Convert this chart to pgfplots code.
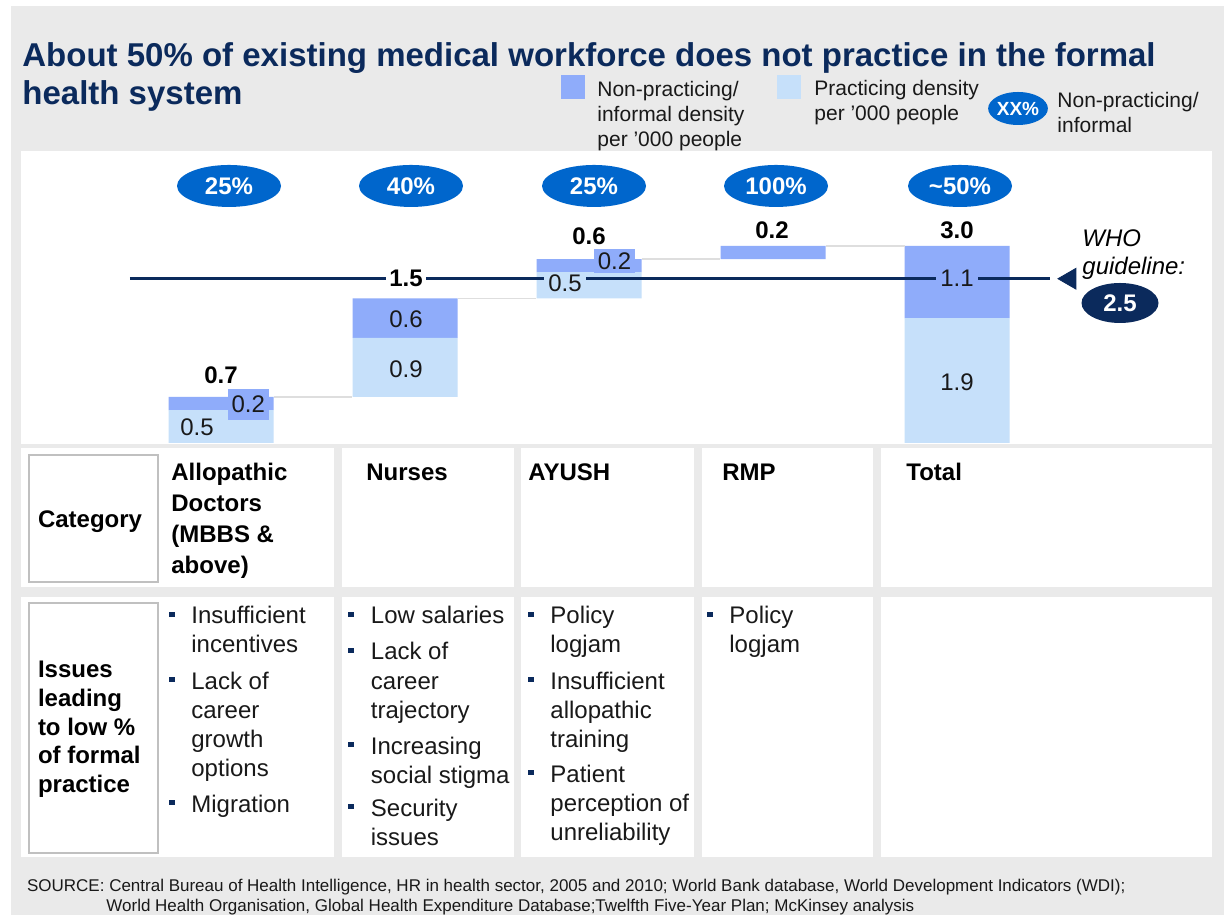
\documentclass[border=0pt]{standalone}
\usepackage{fontspec}
\setmainfont{Liberation Sans}
\usepackage{pgfplots}
\pgfplotsset{compat=1.18}
\usetikzlibrary{shapes.geometric}
\definecolor{navy}{RGB}{11,42,92}
\definecolor{dkbar}{RGB}{143,172,250}
\definecolor{ltbar}{RGB}{198,224,250}
\definecolor{pblue}{RGB}{0,102,204}
\definecolor{bg}{RGB}{234,234,234}
\definecolor{boxgray}{RGB}{192,192,192}
\definecolor{conn}{RGB}{222,222,222}
\definecolor{txt}{RGB}{25,25,25}
\newcommand{\bul}{\raisebox{3.6pt}{\textcolor{navy}{\rule{2.6pt}{2.6pt}}}}
\pgfplotsset{myax/.style={at={(0pt,0pt)}, anchor=south west, scale only axis,
  width=612pt, height=457.5pt, xmin=-1.20109, xmax=5.45109, ymin=-7.1842, ymax=6.7428,
  hide axis, clip=false}}
\tikzset{
  lbl/.style={font=\fontsize{12}{14}\selectfont, text=txt, inner sep=0pt},
  blbl/.style={font=\fontsize{12}{14}\selectfont\bfseries, text=black, inner sep=0pt},
  pct/.style={ellipse, fill=pblue, text=white, font=\fontsize{12}{14}\selectfont\bfseries,
    minimum width=52pt, minimum height=21pt, inner sep=0pt},
}
\begin{document}
\begin{tikzpicture}
% backgrounds (pixel coordinates, origin top-left)
\begin{scope}[yshift=457.5pt, x=0.5pt, y=-0.5pt]
\fill[white] (0,0) rectangle (1224,915);
\fill[bg] (11,6) rectangle (1224,915);
\fill[white] (21,151) rectangle (1212,444);
\foreach \a/\b in {21/334, 342/514, 521/694, 701.5/873, 881/1212} {
  \fill[white] (\a,448) rectangle (\b,587);
  \fill[white] (\a,597) rectangle (\b,857);
}
\end{scope}

% stacked (floating) bars
\begin{axis}[myax, ybar stacked, bar width=0.5707]
\addplot[draw=none, fill=none] coordinates {(0,0) (1,0.7) (2,2.2) (3,2.8) (4,0)};
\addplot[draw=none, fill=ltbar] coordinates {(0,0.5) (1,0.9) (2,0.4) (3,0) (4,1.9)};
\addplot[draw=none, fill=dkbar] coordinates {(0,0.2) (1,0.6) (2,0.2) (3,0.2) (4,1.1)};
\end{axis}

% lines, marker and labels
\begin{axis}[myax]
\addplot[conn, line width=0.7pt] coordinates {(0.2854,0.7) (0.7146,0.7)};
\addplot[conn, line width=0.7pt] coordinates {(1.2854,2.2) (1.7146,2.2)};
\addplot[conn, line width=0.7pt] coordinates {(2.2854,2.8) (2.7146,2.8)};
\addplot[conn, line width=0.7pt] coordinates {(3.2854,3.0) (3.7146,3.0)};
\addplot[navy, line width=1.3pt] coordinates {(-0.4946,2.5) (4.5054,2.5)};
\addplot[navy, only marks, mark=triangle*, mark size=6pt,
  mark options={rotate=90, fill=navy, draw=navy}] coordinates {(4.614,2.5)};
% percentage bubbles
\node[pct] at (axis cs:0.0435,3.9117) {25\%};
\node[pct] at (axis cs:1.0326,3.9117) {40\%};
\node[pct] at (axis cs:2.0272,3.9117) {25\%};
\node[pct] at (axis cs:3.0163,3.9117) {100\%};
\node[pct] at (axis cs:4.0163,3.9117) {\textasciitilde50\%};
% Allopathic
\node[blbl] at (axis cs:0,1.035) {0.7};
\node[lbl, fill=dkbar, minimum width=20.75pt, minimum height=15.5pt] at (axis cs:0.1481,0.586) {0.2};
\node[lbl] at (axis cs:-0.13,0.244) {0.5};
% Nurses
\node[blbl, fill=white, minimum width=20pt, minimum height=11pt] at (axis cs:1.0054,2.5) {1.5};
\node[lbl] at (axis cs:1.0054,1.887) {0.6};
\node[lbl] at (axis cs:1.0054,1.126) {0.9};
% AYUSH
\node[blbl] at (axis cs:2,3.15) {0.6};
\node[lbl, fill=dkbar, minimum width=20.5pt, minimum height=12pt] at (axis cs:2.1386,2.77) {0.2};
\node[lbl, fill=ltbar, minimum width=21pt, minimum height=10pt] at (axis cs:1.8696,2.43) {0.5};
% RMP
\node[blbl] at (axis cs:2.9946,3.24) {0.2};
% Total
\node[blbl] at (axis cs:4,3.24) {3.0};
\node[lbl, fill=dkbar, minimum width=21pt, minimum height=11pt] at (axis cs:4,2.5) {1.1};
\node[lbl] at (axis cs:4,0.93) {1.9};
\end{axis}

% texts (pixel coordinates)
\begin{scope}[yshift=457.5pt, x=0.5pt, y=-0.5pt,
  every node/.style={inner sep=0pt, anchor=base west},
  lg/.style={font=\fontsize{10.5}{12}\selectfont, text=txt},
  tb/.style={font=\fontsize{12}{14}\selectfont, text=txt},
  tbb/.style={font=\fontsize{12}{14}\selectfont\bfseries, text=black}]
\node[font=\fontsize{16.5}{19}\selectfont\bfseries, text=navy] at (22,67)
  {About 50\% of existing medical workforce does not practice in the formal};
\node[font=\fontsize{16.5}{19}\selectfont\bfseries, text=navy] at (22,105) {health system};
% legend
\fill[dkbar] (561,75) rectangle (585,99);
\fill[ltbar] (777,75) rectangle (801,99);
\node[lg] at (597,97) {Non-practicing/};
\node[lg] at (597,122) {informal density};
\node[lg] at (597,147) {per '000 people};
\node[lg] at (814,95.5) {Practicing density};
\node[lg] at (814,120.5) {per '000 people};
\node[ellipse, fill=pblue, anchor=center, minimum width=28.5pt, minimum height=16.5pt,
  text=white, font=\fontsize{9.5}{11}\selectfont\bfseries] at (1018,108.5) {XX\%};
\node[lg] at (1057,107.5) {Non-practicing/};
\node[lg] at (1057,132.5) {informal};
% WHO guideline
\node[font=\fontsize{12}{14}\selectfont\itshape, text=black] at (1082,246.5) {WHO};
\node[font=\fontsize{12}{14}\selectfont\itshape, text=black] at (1082,275) {guideline:};
\node[ellipse, fill=navy, anchor=center, minimum width=38.5pt, minimum height=20pt,
  text=white, font=\fontsize{12}{14}\selectfont\bfseries] at (1120,303) {2.5};
% table
\draw[boxgray, line width=1pt, fill=white] (28.5,455) rectangle (158,582);
\draw[boxgray, line width=1pt, fill=white] (28.5,603) rectangle (158,853);
\node[tbb] at (37.6,528) {Category};
\node[tbb] at (37.6,678) {Issues};
\node[tbb] at (37.6,706.5) {leading};
\node[tbb] at (37.6,735) {to low \%};
\node[tbb] at (37.6,763.5) {of formal};
\node[tbb] at (37.6,792) {practice};
\node[tbb] at (171,481) {Allopathic};
\node[tbb] at (171,512) {Doctors};
\node[tbb] at (171,543) {(MBBS \&};
\node[tbb] at (171,574) {above)};
\node[tbb] at (366,481) {Nurses};
\node[tbb] at (528,481) {AYUSH};
\node[tbb] at (722,481) {RMP};
\node[tbb] at (906,481) {Total};
% issues col 1
\node[tb] at (169,624) {\bul}; \node[tb] at (191,624) {Insufficient};
\node[tb] at (191,653) {incentives};
\node[tb] at (169,689) {\bul}; \node[tb] at (191,689) {Lack of};
\node[tb] at (191,718) {career};
\node[tb] at (191,747) {growth};
\node[tb] at (191,776) {options};
\node[tb] at (169,812) {\bul}; \node[tb] at (191,812) {Migration};
% issues col 2
\node[tb] at (348,624) {\bul}; \node[tb] at (370.5,624) {Low salaries};
\node[tb] at (348,660) {\bul}; \node[tb] at (370.5,660) {Lack of};
\node[tb] at (370.5,689) {career};
\node[tb] at (370.5,718) {trajectory};
\node[tb] at (348,754) {\bul}; \node[tb] at (370.5,754) {Increasing};
\node[tb] at (370.5,783) {social stigma};
\node[tb] at (348,816) {\bul}; \node[tb] at (370.5,816) {Security};
\node[tb] at (370.5,845) {issues};
% issues col 3
\node[tb] at (528,624) {\bul}; \node[tb] at (550,624) {Policy};
\node[tb] at (550,653) {logjam};
\node[tb] at (528,689) {\bul}; \node[tb] at (550,689) {Insufficient};
\node[tb] at (550,718) {allopathic};
\node[tb] at (550,747) {training};
\node[tb] at (528,782) {\bul}; \node[tb] at (550,782) {Patient};
\node[tb] at (550,811) {perception of};
\node[tb] at (550,840) {unreliability};
% issues col 4
\node[tb] at (707,624) {\bul}; \node[tb] at (729,624) {Policy};
\node[tb] at (729,653) {logjam};
% source
\node[font=\fontsize{8.5}{10}\selectfont, text=txt] at (26.7,891)
  {SOURCE: Central Bureau of Health Intelligence, HR in health sector, 2005 and 2010; World Bank database, World Development Indicators (WDI);};
\node[font=\fontsize{8.5}{10}\selectfont, text=txt] at (106,911)
  {World Health Organisation, Global Health Expenditure Database;Twelfth Five-Year Plan; McKinsey analysis};
\end{scope}
\end{tikzpicture}
\end{document}
